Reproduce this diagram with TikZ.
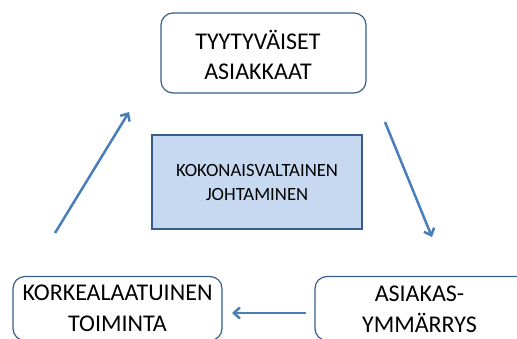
\documentclass[tikz,border=0pt]{standalone}
\usepackage{fontspec}
\setmainfont{Carlito}
\usetikzlibrary{arrows.meta}
\definecolor{boxline}{HTML}{385D8A}
\definecolor{boxfill}{HTML}{C6D9F1}
\definecolor{arrowblue}{HTML}{4A7EBB}
\begin{document}
\begin{tikzpicture}[x=1pt,y=-1pt,
    box/.style={draw=boxline,line width=1.2pt,rounded corners=12pt,align=center,
      font=\fontsize{24}{30.5}\selectfont,minimum width=209pt,minimum height=64pt,inner sep=0pt},
    core/.style={draw=boxline,fill=boxfill,line width=1.2pt,align=center,
      font=\fontsize{18.7}{24}\selectfont,minimum width=210pt,minimum height=94pt,inner sep=0pt},
    boxtext/.style={align=center,font=\fontsize{24}{30.5}\selectfont,inner sep=0pt},
    flow/.style={draw=arrowblue,line width=2.5pt,-{Straight Barb[length=6pt,width=11pt]}}]
  \useasboundingbox (0,0) rectangle (517,338);
  \draw
    (263.5,53) node[box,minimum width=205pt,minimum height=80pt] (tyyt){}
    (258,55) node[boxtext] (tyytx){TYYTYVÄISET\\ASIAKKAAT}
    (257,182) node[core] (johto){KOKONAISVALTAINEN\\JOHTAMINEN}
    (117.5,308.5) node[box] (toim){KORKEALAATUINEN\\TOIMINTA}
    (435,308.5) node[box,minimum width=240pt] (ymm){}
    (419.5,309.5) node[boxtext] (ymmx){ASIAKAS-\\YMMÄRRYS};
  \coordinate (a1) at (385,122);
  \coordinate (a2) at (432,237);
  \coordinate (b1) at (306,313);
  \coordinate (b2) at (232,313);
  \coordinate (c1) at (55,233);
  \coordinate (c2) at (129,112);
  \begin{scope}[flow]
    \draw (a1) to (a2);
    \draw (b1) to (b2);
    \draw (c1) to (c2);
  \end{scope}
\end{tikzpicture}
\end{document}
